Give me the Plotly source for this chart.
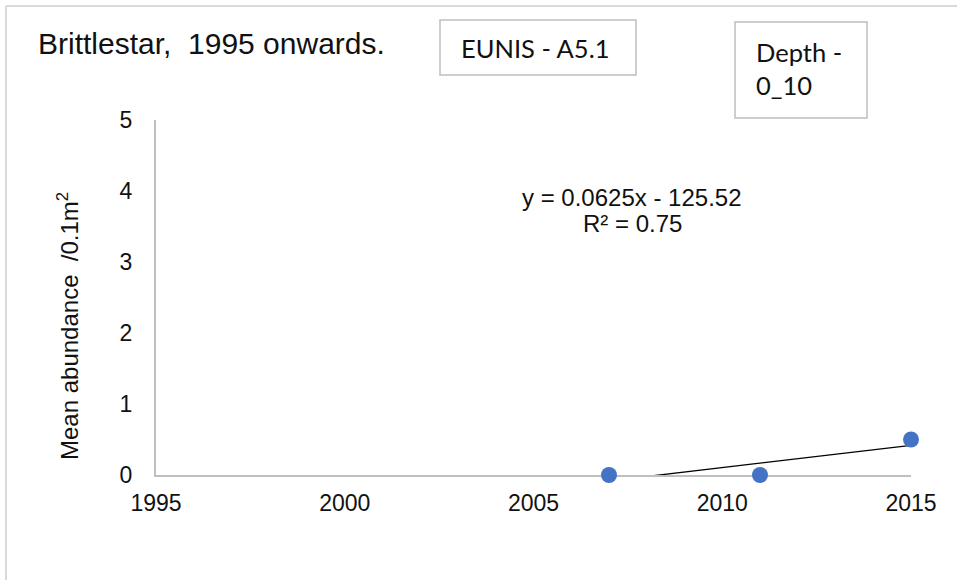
import numpy as np
import plotly.graph_objects as go

# ---- data ----
years = [2007, 2011, 2015]
abundance = [0.0, 0.0, 0.5]
x_ticks = [1995, 2000, 2005, 2010, 2015]
y_ticks = [0, 1, 2, 3, 4, 5]
title_text = "Brittlestar,  1995 onwards."
eunis_text = "EUNIS - A5.1"
depth_lines = ["Depth -", "0_10"]
y_title = "Mean abundance  /0.1m<sup>2</sup>"

# linear trend (least squares)
slope, intercept = np.polyfit(years, abundance, 1)
pred = np.polyval([slope, intercept], years)
ss_res = float(np.sum((np.array(abundance) - pred) ** 2))
ss_tot = float(np.sum((np.array(abundance) - np.mean(abundance)) ** 2))
r2 = 1 - ss_res / ss_tot
eq_text = f"y = {slope:.4f}x - {abs(intercept):.2f}"
r2_text = f"R² = {r2:.2f}"
trend_x = [min(years), max(years)]
trend_y = [slope * v + intercept for v in trend_x]

W, H = 957, 580
L, R, T, B = 156, 46, 120, 105
PW, PH = W - L - R, H - T - B


def px(x):
    return (x - L) / PW


def py(y):
    return (H - B - y) / PH


FONT = "Liberation Sans, Arial, sans-serif"
BOXFONT = "Lato, Carlito, Calibri, sans-serif"
TXT = "#111111"

fig = go.Figure()
fig.add_trace(go.Scatter(
    x=trend_x, y=trend_y, mode="lines",
    line=dict(color="#000000", width=1.3),
    hoverinfo="skip", showlegend=False,
))
fig.add_trace(go.Scatter(
    x=years, y=abundance, mode="markers",
    marker=dict(color="#4472C4", size=16),
    cliponaxis=False, showlegend=False,
))

fig.update_layout(
    width=W, height=H,
    margin=dict(l=L, r=R, t=T, b=B, pad=0),
    paper_bgcolor="white", plot_bgcolor="white",
    showlegend=False,
    font=dict(family=FONT, color=TXT),
)
fig.update_xaxes(
    range=[1995, 2015], tickvals=x_ticks, showgrid=False, zeroline=False,
    showline=True, linecolor="#bfbfbf", linewidth=2, ticks="",
    tickfont=dict(size=23, family=FONT, color=TXT),
    ticklabelstandoff=6, layer="below traces",
)
fig.update_yaxes(
    range=[0, 5], tickvals=y_ticks, showgrid=False, zeroline=False,
    showline=True, linecolor="#bfbfbf", linewidth=2, ticks="",
    tickfont=dict(size=23, family=FONT, color=TXT),
    ticklabelstandoff=17, layer="below traces",
)

shapes = []
# outer frame (top and left edges visible)
shapes.append(dict(type="line", xref="paper", yref="paper",
                   x0=px(6), x1=px(957), y0=py(6), y1=py(6),
                   line=dict(color="#d9d9d9", width=2)))
shapes.append(dict(type="line", xref="paper", yref="paper",
                   x0=px(6), x1=px(6), y0=py(6), y1=py(580),
                   line=dict(color="#d9d9d9", width=2)))
# text boxes
shapes.append(dict(type="rect", xref="paper", yref="paper",
                   x0=px(440), x1=px(636), y0=py(20), y1=py(75),
                   line=dict(color="#bfbfbf", width=1.5), fillcolor="white"))
shapes.append(dict(type="rect", xref="paper", yref="paper",
                   x0=px(735), x1=px(867), y0=py(22), y1=py(118),
                   line=dict(color="#bfbfbf", width=1.5), fillcolor="white"))
fig.update_layout(shapes=shapes)

ann = []
ann.append(dict(text=title_text, xref="paper", yref="paper",
                x=px(36), y=py(43), xanchor="left", yanchor="middle",
                showarrow=False, font=dict(size=30, family=FONT, color=TXT)))
ann.append(dict(text=eunis_text, xref="paper", yref="paper",
                x=px(535), y=py(48), xanchor="center", yanchor="middle",
                showarrow=False, font=dict(size=25.5, family=BOXFONT, color=TXT)))
ann.append(dict(text=depth_lines[0], xref="paper", yref="paper",
                x=px(754), y=py(52), xanchor="left", yanchor="middle",
                showarrow=False, font=dict(size=25.5, family=BOXFONT, color=TXT)))
ann.append(dict(text=depth_lines[1], xref="paper", yref="paper",
                x=px(754), y=py(85), xanchor="left", yanchor="middle",
                showarrow=False, font=dict(size=25.5, family=BOXFONT, color=TXT)))
ann.append(dict(text=eq_text, xref="paper", yref="paper",
                x=px(632), y=py(197), xanchor="center", yanchor="middle",
                showarrow=False, font=dict(size=24, family=FONT, color=TXT)))
ann.append(dict(text=r2_text, xref="paper", yref="paper",
                x=px(632), y=py(223), xanchor="center", yanchor="middle",
                showarrow=False, font=dict(size=24, family=FONT, color=TXT)))
ann.append(dict(text=y_title, xref="paper", yref="paper",
                x=px(68), y=py(326), xanchor="center", yanchor="middle",
                textangle=-90, showarrow=False,
                font=dict(size=24, family=FONT, color=TXT)))
fig.update_layout(annotations=ann)

fig.write_html("out.html", config={"displayModeBar": False},
               post_script="document.body.style.margin='0';")
